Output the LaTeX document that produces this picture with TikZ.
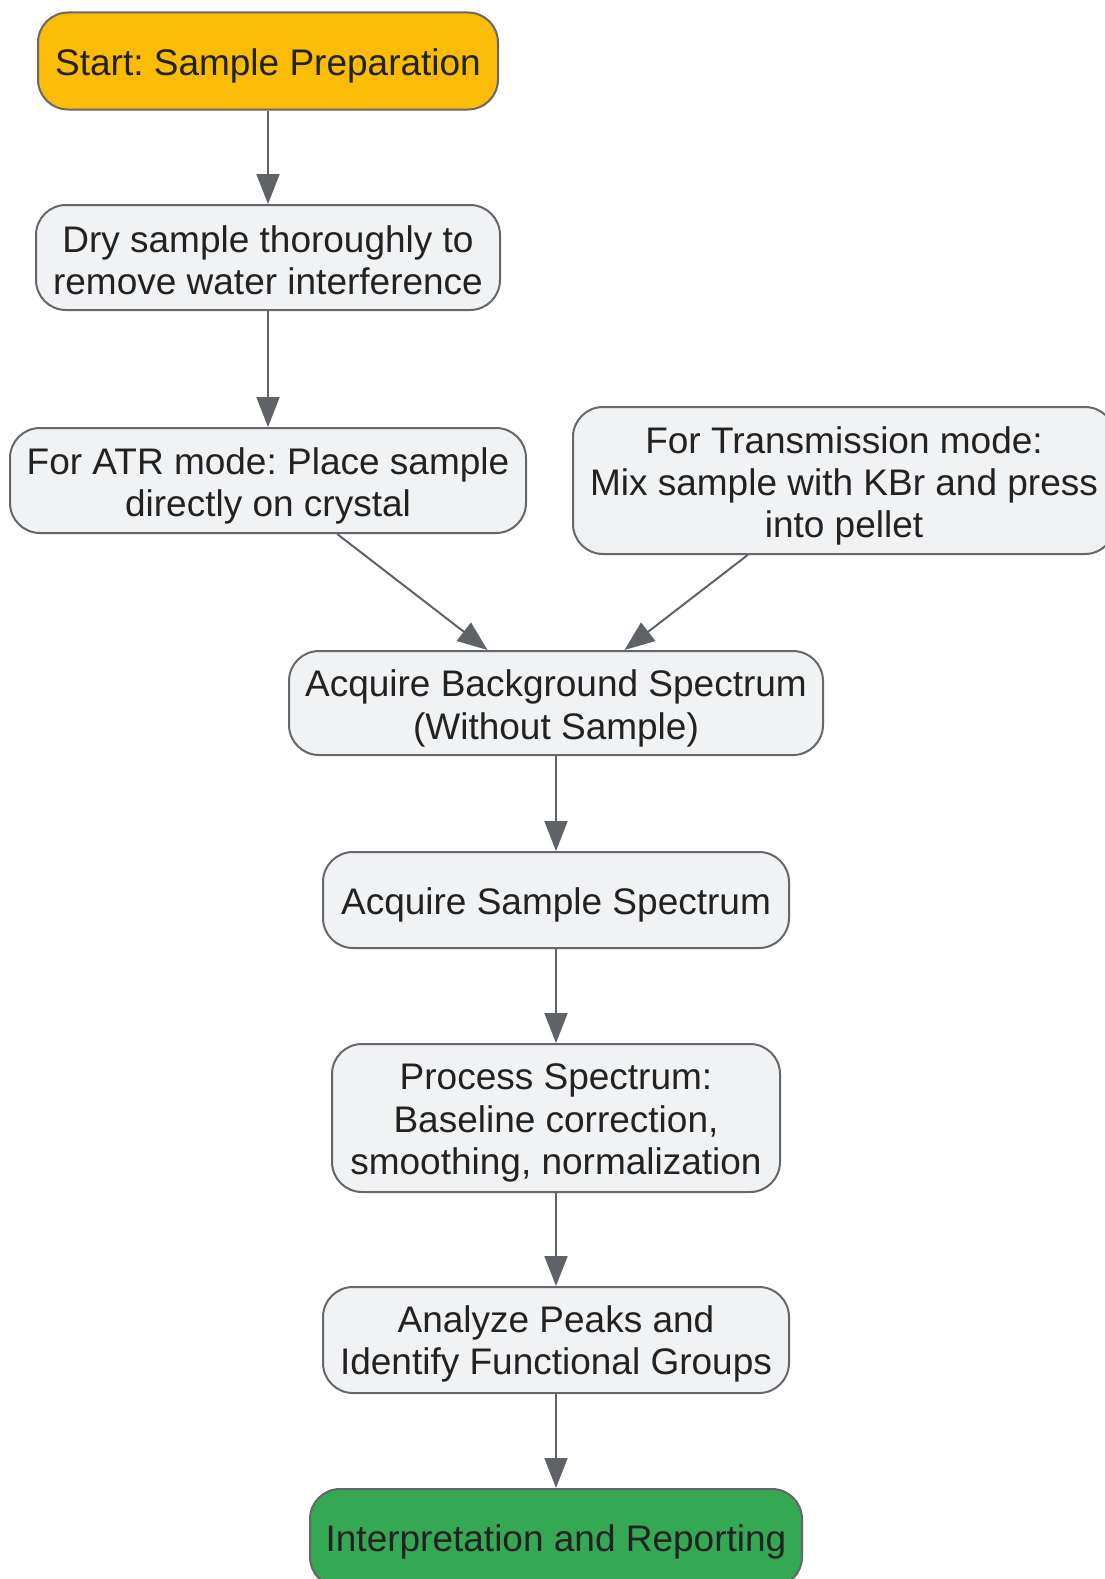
\documentclass[tikz,border=0pt]{standalone}
\usepackage{fontspec}
\setmainfont{Liberation Sans}
\usetikzlibrary{arrows.meta}
\definecolor{boxfill}{HTML}{F1F2F4}
\definecolor{boxline}{HTML}{66676B}
\definecolor{startfill}{HTML}{FBBC05}
\definecolor{endfill}{HTML}{34A853}
\definecolor{arrowcol}{HTML}{5F6368}
\definecolor{txt}{HTML}{222222}
\begin{document}
\frenchspacing
\begin{tikzpicture}[x=1pt,y=-1pt,
  stepbox/.style={draw=boxline, line width=2pt, fill=boxfill, rounded corners=30pt,
    inner sep=0pt},
  steptext/.style={inner sep=0pt, align=center, text=txt,
    font=\fontsize{37}{42.3}\selectfont},
  conn/.style={draw=arrowcol, line width=2pt, -{Triangle[length=30pt,width=23pt]}}]
\useasboundingbox (0,0) rectangle (1105,1579);
\node[stepbox, fill=startfill, minimum width=460pt, minimum height=97pt] (start) at (268,61) {};
\node[stepbox, minimum width=464pt, minimum height=105pt] (dry) at (268,257.5) {};
\node[stepbox, minimum width=516pt, minimum height=105pt] (atr) at (268,480.5) {};
\node[stepbox, minimum width=542pt, minimum height=147pt] (trans) at (844,480.5) {};
\node[stepbox, minimum width=534pt, minimum height=104pt] (bg) at (556,703) {};
\node[stepbox, minimum width=466pt, minimum height=96pt] (sample) at (556,900) {};
\node[stepbox, minimum width=448pt, minimum height=148pt] (proc) at (556,1118) {};
\node[stepbox, minimum width=466pt, minimum height=106pt] (anal) at (556,1340) {};
\node[stepbox, fill=endfill, minimum width=492pt, minimum height=98pt] (interp) at (556,1538) {};
\node[steptext] (startT) at ([yshift=-5pt]start.center) {Start: Sample Preparation};
\node[steptext] (dryT) at ([yshift=-3pt]dry.center) {Dry sample thoroughly to\\remove water interference};
\node[steptext] (atrT) at ([yshift=-5.5pt]atr.center) {For ATR mode: Place sample\\directly on crystal};
\node[steptext] (transT) at ([yshift=-5.5pt]trans.center) {For Transmission mode:\\Mix sample with KBr and press\\into pellet};
\node[steptext] (bgT) at ([yshift=-5.5pt]bg.center) {Acquire Background Spectrum\\(Without Sample)};
\node[steptext] (sampleT) at ([yshift=-5pt]sample.center) {Acquire Sample Spectrum};
\node[steptext] (procT) at ([yshift=-5pt]proc.center) {Process Spectrum:\\Baseline correction,\\smoothing, normalization};
\node[steptext] (analT) at ([yshift=-4pt]anal.center) {Analyze Peaks and\\Identify Functional Groups};
\node[steptext] (interpT) at ([yshift=-4pt]interp.center) {Interpretation and Reporting};
\draw[conn] (start) -- (dry);
\draw[conn] (dry) -- (atr);
\draw[conn] (atr) -- (bg);
\draw[conn] (trans) -- (bg);
\draw[conn] (bg) -- (sample);
\draw[conn] (sample) -- (proc);
\draw[conn] (proc) -- (anal);
\draw[conn] (anal) -- (interp);
\end{tikzpicture}
\end{document}
